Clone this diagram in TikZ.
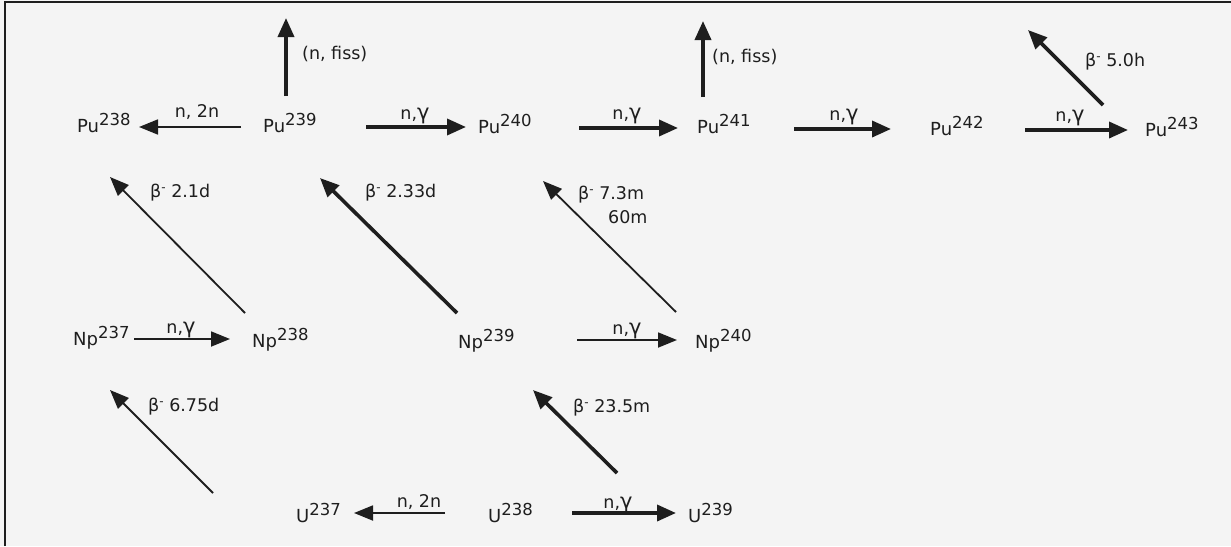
\documentclass[tikz,border=0pt]{standalone}
\usepackage{fontspec}
\setmainfont{DejaVu Sans}
\usetikzlibrary{arrows.meta}
\definecolor{bg}{RGB}{244,244,244}
\definecolor{ink}{RGB}{30,30,30}
\newcommand{\iso}[2]{#1\raisebox{6.5pt}{\fontsize{16.5}{17}\selectfont #2}}
\newcommand{\bm}{β\raisebox{5.5pt}{\fontsize{12}{12}\selectfont -}}
\newcommand{\gm}{{\fontsize{21}{21}\selectfont γ}}
\begin{document}
\begin{tikzpicture}[x=1pt,y=-1pt,
  every node/.style={text=ink,inner sep=0pt,font=\fontsize{18}{21}\selectfont},
  iso/.style={anchor=base west},
  lab/.style={anchor=base,font=\fontsize{17.5}{20}\selectfont},
  labw/.style={anchor=base west,font=\fontsize{17.5}{20}\selectfont},
  thickarr/.style={draw=ink,line width=3.6pt,-{Triangle[length=19pt,width=16pt]}},
  thinarr/.style={draw=ink,line width=1.8pt,-{Triangle[length=19pt,width=15pt]}}]
\fill[bg] (0,0) rectangle (1231,546);
\useasboundingbox (0,0) rectangle (1231,546);
\draw[ink,line width=2pt] (5,546) -- (5,2) -- (1231,2);

% isotopes
\node[iso] (pu238) at (77,132) {\iso{Pu}{238}};
\node[iso] (pu239) at (263,132) {\iso{Pu}{239}};
\node[iso] (pu240) at (478,133) {\iso{Pu}{240}};
\node[iso] (pu241) at (697,133) {\iso{Pu}{241}};
\node[iso] (pu242) at (930,135) {\iso{Pu}{242}};
\node[iso] (pu243) at (1145,136) {\iso{Pu}{243}};
\node[iso] (np237) at (73,345) {\iso{Np}{237}};
\node[iso] (np238) at (252,347) {\iso{Np}{238}};
\node[iso] (np239) at (458,348) {\iso{Np}{239}};
\node[iso] (np240) at (695,348) {\iso{Np}{240}};
\node[iso] (u237) at (296,522) {\iso{U}{237}};
\node[iso] (u238) at (488,522) {\iso{U}{238}};
\node[iso] (u239) at (688,522) {\iso{U}{239}};

% arrow end coordinates
\coordinate (a1s) at (241,127); \coordinate (a1e) at (139,127);
\coordinate (f1s) at (286,96);  \coordinate (f1e) at (286,18);
\coordinate (a2s) at (366,127); \coordinate (a2e) at (466,127);
\coordinate (a3s) at (579,128); \coordinate (a3e) at (678,128);
\coordinate (f2s) at (703,97);  \coordinate (f2e) at (703,21);
\coordinate (a4s) at (794,129); \coordinate (a4e) at (891,129);
\coordinate (a5s) at (1025,130); \coordinate (a5e) at (1128,130);
\coordinate (b5s) at (1103,105); \coordinate (b5e) at (1028,30);
\coordinate (b1s) at (245,313); \coordinate (b1e) at (110,177);
\coordinate (b2s) at (457,313); \coordinate (b2e) at (320,178);
\coordinate (b3s) at (676,312); \coordinate (b3e) at (543,181);
\coordinate (n1s) at (134,339); \coordinate (n1e) at (230,339);
\coordinate (n2s) at (577,340); \coordinate (n2e) at (677,340);
\coordinate (b4s) at (213,493); \coordinate (b4e) at (110,390);
\coordinate (b6s) at (617,473); \coordinate (b6e) at (533,390);
\coordinate (u1s) at (445,513); \coordinate (u1e) at (354,513);
\coordinate (u2s) at (572,513); \coordinate (u2e) at (676,513);

% connectors
\draw[thinarr] (a1s) -- (a1e);
\draw[thickarr] (f1s) -- (f1e);
\draw[thickarr] (a2s) -- (a2e);
\draw[thickarr] (a3s) -- (a3e);
\draw[thickarr] (f2s) -- (f2e);
\draw[thickarr] (a4s) -- (a4e);
\draw[thickarr] (a5s) -- (a5e);
\draw[thickarr] (b5s) -- (b5e);
\draw[thinarr] (b1s) -- (b1e);
\draw[thickarr] (b2s) -- (b2e);
\draw[thinarr] (b3s) -- (b3e);
\draw[thinarr] (n1s) -- (n1e);
\draw[thinarr] (n2s) -- (n2e);
\draw[thinarr] (b4s) -- (b4e);
\draw[thickarr] (b6s) -- (b6e);
\draw[thinarr] (u1s) -- (u1e);
\draw[thickarr] (u2s) -- (u2e);

% labels
\node[lab] (l1) at (197,117) {n, 2n};
\node[labw] (l2) at (302,59) {(n, fiss)};
\node[lab] (l3) at (415,119) {n,\gm};
\node[lab] (l4) at (627,119) {n,\gm};
\node[labw] (l5) at (712,62) {(n, fiss)};
\node[lab] (l6) at (844,120) {n,\gm};
\node[lab] (l7) at (1070,121) {n,\gm};
\node[labw] (l8) at (1085,66) {\bm\ 5.0h};
\node[labw] (l9) at (150,197) {\bm\ 2.1d};
\node[labw] (l10) at (365,197) {\bm\ 2.33d};
\node[labw] (l11) at (578,199) {\bm\ 7.3m};
\node[labw] (l12) at (608,223) {60m};
\node[lab] (l13) at (181,333) {n,\gm};
\node[lab] (l14) at (627,334) {n,\gm};
\node[labw] (l15) at (148,411) {\bm\ 6.75d};
\node[labw] (l16) at (573,412) {\bm\ 23.5m};
\node[lab] (l17) at (419,507) {n, 2n};
\node[lab] (l18) at (618,508) {n,\gm};
\end{tikzpicture}
\end{document}
